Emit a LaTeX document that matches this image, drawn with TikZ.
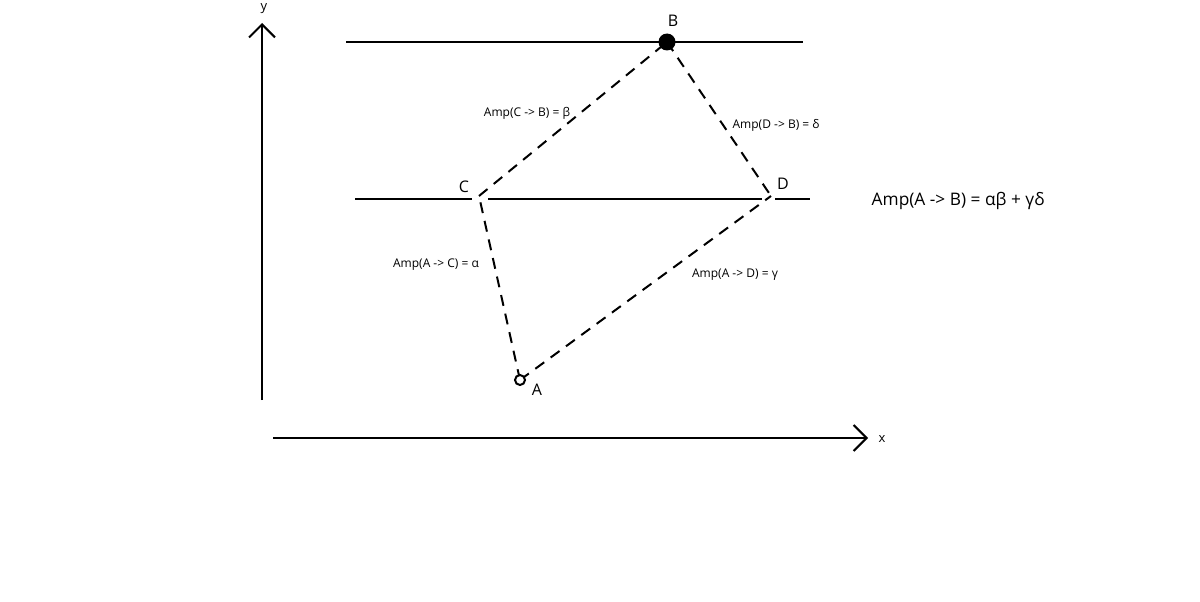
\documentclass[tikz,border=0pt]{standalone}
\usepackage{fontspec}
\setmainfont{Open Sans}
\usetikzlibrary{arrows.meta}
\begin{document}
\begin{tikzpicture}[x=1pt,y=-1pt,
  solidline/.style={line width=2pt,black},
  dashline/.style={line width=2pt,black,dash pattern=on 11pt off 8pt},
  axis/.style={line width=2pt,black,-{Straight Barb[length=13pt,width=26pt,line width=2pt]}},
  small/.style={font=\fontsize{12}{14}\selectfont,inner sep=0pt},
  big/.style={font=\fontsize{17.3}{20}\selectfont,inner sep=0pt},
  axlabel/.style={font=\fontsize{13}{14}\selectfont,inner sep=0pt},
  ptlabel/.style={font=\fontsize{16}{18}\selectfont,inner sep=0pt}]
\useasboundingbox[fill=white] (0,0) rectangle (1200,602);
% axes
\coordinate (y0) at (262,400);
\coordinate (y1) at (262,23);
\coordinate (x0) at (273,438);
\coordinate (x1) at (868,438);
\draw[axis] (y0) -- (y1);
\draw[axis] (x0) -- (x1);
\node[axlabel] (ylab) at (264,9) {y};
\node[axlabel] (xlab) at (882,439) {x};
% points
\coordinate (A) at (520,380);
\coordinate (B) at (667,42);
\coordinate (C) at (479,196);
\coordinate (D) at (771,196);
% horizontal lines
\coordinate (t0) at (346,42);
\coordinate (t1) at (803,42);
\draw[solidline] (t0) -- (t1);
\coordinate (m0) at (355,199);
\coordinate (m1) at (472,199);
\coordinate (m2) at (488,199);
\coordinate (m3) at (762,199);
\coordinate (m4) at (775,199);
\coordinate (m5) at (810,199);
\draw[solidline] (m0) -- (m1);
\draw[solidline] (m2) -- (m3);
\draw[solidline] (m4) -- (m5);
% dashed connectors
\draw[dashline] (C) -- (B);
\draw[dashline] (B) -- (D);
\draw[dashline] (A) -- (C);
\draw[dashline] (A) -- (D);
% markers
\fill (B) circle (8.5pt);
\draw[line width=2pt,fill=white] (A) circle (5pt);
% labels
\node[ptlabel] (Blab) at (673,21) {B};
\node[ptlabel] (Clab) at (464,187) {C};
\node[ptlabel] (Dlab) at (783,184) {D};
\node[ptlabel] (Alab) at (537,390) {A};
\node[small] (lCB) at (527,113) {Amp(C -> B) = β};
\node[small] (lDB) at (776,125) {Amp(D -> B) = δ};
\node[small] (lAC) at (436,265) {Amp(A -> C) = α};
\node[small] (lAD) at (735,275) {Amp(A -> D) = γ};
\node[big] (lAB) at (958,201) {Amp(A -> B) = αβ + γδ};
\end{tikzpicture}
\end{document}
